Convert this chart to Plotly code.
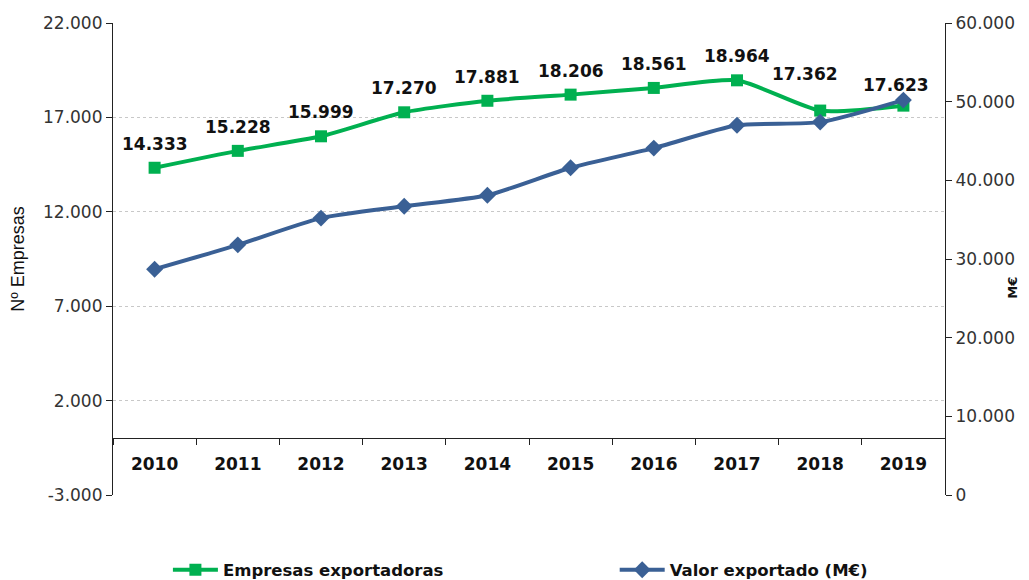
import plotly.graph_objects as go

years = ["2010", "2011", "2012", "2013", "2014", "2015", "2016", "2017", "2018", "2019"]
empresas = [14333, 15228, 15999, 17270, 17881, 18206, 18561, 18964, 17362, 17623]
valor = [28700, 31800, 35200, 36700, 38100, 41600, 44100, 47000, 47400, 50200]
left_ticks = [-3000, 2000, 7000, 12000, 17000, 22000]
left_ticktext = ["-3.000", "2.000", "7.000", "12.000", "17.000", "22.000"]
right_ticks = [0, 10000, 20000, 30000, 40000, 50000, 60000]
right_ticktext = ["0", "10.000", "20.000", "30.000", "40.000", "50.000", "60.000"]

GREEN = "#00B050"
BLUE = "#3A6095"
FONT = "DejaVu Sans"

labels = [f"{v:,}".replace(",", ".") for v in empresas]

fig = go.Figure()
fig.add_trace(go.Scatter(
    x=years, y=empresas, name="Empresas exportadoras",
    mode="lines+markers", line=dict(color=GREEN, width=4, shape="spline", smoothing=0.6),
    marker=dict(symbol="square", size=12, color=GREEN),
    yaxis="y", cliponaxis=False, legend="legend",
))
fig.add_trace(go.Scatter(
    x=years, y=valor, name="Valor exportado (M€)",
    mode="lines+markers", line=dict(color=BLUE, width=4, shape="spline", smoothing=0.6),
    marker=dict(symbol="diamond", size=13, color=BLUE),
    yaxis="y2", cliponaxis=False, legend="legend2",
))

# data labels (category axis: annotation x given as category index)
for i, (yr, v, lab) in enumerate(zip(years, empresas, labels)):
    xs, ys = 0, 24
    if yr == "2018":
        xs, ys = -15, 37
    elif yr == "2019":
        xs, ys = -7, 21
    fig.add_annotation(
        x=i, y=v, xref="x", yref="y", text="<b>" + lab + "</b>",
        showarrow=False, xshift=xs, yshift=ys,
        font=dict(family=FONT, size=17, color="#111111"),
    )

# right axis title (placed close to the edge as in the original)
fig.add_annotation(
    x=1.081, y=0.44, xref="paper", yref="paper", text="<b>M€</b>",
    textangle=-90, showarrow=False, xanchor="center", yanchor="middle",
    font=dict(family=FONT, size=13, color="#111111"),
)

legend_font = dict(family=FONT, size=16.5, color="#111111", weight="bold")

fig.update_layout(
    width=1029, height=580,
    paper_bgcolor="white", plot_bgcolor="white",
    margin=dict(l=105, r=92, t=15, b=93, autoexpand=False),
    separators=",.",
    font=dict(family=FONT, color="#333333"),
    showlegend=True,
    legend=dict(
        orientation="h", x=0.066, y=-0.159, xanchor="left", yanchor="middle",
        font=legend_font, itemwidth=45, bgcolor="rgba(0,0,0,0)",
    ),
    legend2=dict(
        orientation="h", x=0.603, y=-0.159, xanchor="left", yanchor="middle",
        font=legend_font, itemwidth=45, bgcolor="rgba(0,0,0,0)",
    ),
    xaxis=dict(
        type="category", range=[-0.5, 9.5],
        anchor="free", position=0.12,
        showline=True, linecolor="#222222", linewidth=1.2,
        ticks="outside", tickson="boundaries", ticklen=6, tickcolor="#222222",
        showgrid=False, zeroline=False,
        tickfont=dict(family=FONT, size=17, color="#111111", weight="bold"),
        ticklabelstandoff=10,
    ),
    yaxis=dict(
        range=[-3000, 22000], tickvals=left_ticks, ticktext=left_ticktext,
        showline=True, linecolor="#222222", linewidth=1.2,
        ticks="outside", ticklen=6, tickcolor="#222222",
        showgrid=True, gridcolor="#C8C8C8", griddash="dot", gridwidth=1,
        zeroline=False,
        tickfont=dict(family=FONT, size=17, color="#333333"),
        title=dict(text="Nº Empresas", font=dict(family="Liberation Sans, Arial", size=18, color="#111111"), standoff=20),
    ),
    yaxis2=dict(
        range=[0, 60000], tickvals=right_ticks, ticktext=right_ticktext,
        overlaying="y", side="right",
        showline=True, linecolor="#222222", linewidth=1.2,
        ticks="outside", ticklen=6, tickcolor="#222222",
        showgrid=False, zeroline=False,
        tickfont=dict(family=FONT, size=17, color="#333333"),
    ),
)

fig.write_html("out.html")
